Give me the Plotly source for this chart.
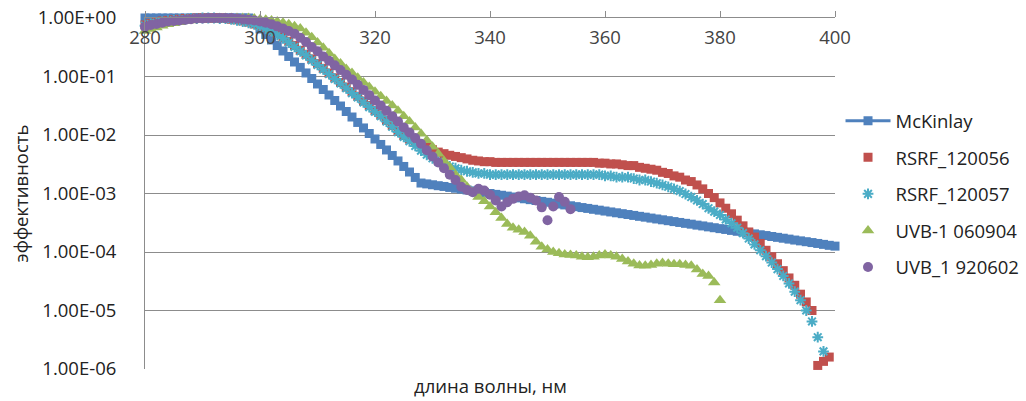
import plotly.graph_objects as go

# wavelengths, nm (1 nm step)
wl_mckinlay = list(range(280, 401))
wl_rsrf56 = list(range(280, 400))
wl_rsrf57 = list(range(280, 399))
wl_uvb_060904 = list(range(280, 381))
wl_uvb_920602 = list(range(280, 355))

mckinlay = [
    1.0, 1.0, 1.0, 1.0, 1.0, 1.0, 1.0, 1.0, 1.0, 1.0,           # 280-289
    1.0, 1.0, 1.0, 1.0, 1.0, 1.0, 1.0, 1.0, 1.0, 0.805,         # 290-299
    0.649, 0.522, 0.421, 0.339, 0.273, 0.220, 0.177, 0.143, 0.115, 0.0925,  # 300-309
    0.0745, 0.0600, 0.0483, 0.0389, 0.0313, 0.0252, 0.0203, 0.0164, 0.0132, 0.0106,  # 310-319
    0.00855, 0.00689, 0.00555, 0.00447, 0.00360, 0.00290, 0.00233, 0.00188, 0.00151, 0.00146,  # 320-329
    0.00141, 0.00136, 0.00132, 0.00127, 0.00123, 0.00119, 0.00115, 0.00111, 0.00107, 0.00104,  # 330-339
    0.00100, 9.66e-4, 9.33e-4, 9.02e-4, 8.71e-4, 8.41e-4, 8.13e-4, 7.85e-4, 7.59e-4, 7.33e-4,  # 340-349
    7.08e-4, 6.84e-4, 6.61e-4, 6.38e-4, 6.17e-4, 5.96e-4, 5.75e-4, 5.56e-4, 5.37e-4, 5.19e-4,  # 350-359
    5.01e-4, 4.84e-4, 4.68e-4, 4.52e-4, 4.37e-4, 4.22e-4, 4.07e-4, 3.94e-4, 3.80e-4, 3.67e-4,  # 360-369
    3.55e-4, 3.43e-4, 3.31e-4, 3.20e-4, 3.09e-4, 2.99e-4, 2.88e-4, 2.79e-4, 2.69e-4, 2.60e-4,  # 370-379
    2.51e-4, 2.43e-4, 2.34e-4, 2.26e-4, 2.19e-4, 2.11e-4, 2.04e-4, 1.97e-4, 1.91e-4, 1.84e-4,  # 380-389
    1.78e-4, 1.72e-4, 1.66e-4, 1.60e-4, 1.55e-4, 1.50e-4, 1.45e-4, 1.40e-4, 1.35e-4, 1.30e-4,  # 390-399
    1.26e-4,                                                     # 400
]

rsrf_120056 = [
    0.76, 0.81, 0.85, 0.89, 0.91, 0.93, 0.95, 0.98, 0.98, 1.0,   # 280-289
    1.0, 1.0, 1.0, 1.0, 0.98, 0.95, 0.93, 0.89, 0.85, 0.79,      # 290-299
    0.74, 0.68, 0.60, 0.54, 0.47, 0.40, 0.34, 0.28, 0.24, 0.20,  # 300-309
    0.166, 0.138, 0.115, 0.095, 0.079, 0.066, 0.055, 0.046, 0.038, 0.032,  # 310-319
    0.026, 0.022, 0.0178, 0.0145, 0.0117, 0.0098, 0.0085, 0.0076, 0.0068, 0.0062,  # 320-329
    0.0056, 0.0051, 0.0048, 0.0045, 0.0043, 0.0041, 0.0039, 0.0037, 0.0036, 0.0035,  # 330-339
    0.0035, 0.0034, 0.0034, 0.0034, 0.0034, 0.0034, 0.0034, 0.0034, 0.0034, 0.0034,  # 340-349
    0.0034, 0.0034, 0.0034, 0.0034, 0.0034, 0.0034, 0.0034, 0.0034, 0.0034, 0.0033,  # 350-359
    0.0033, 0.0032, 0.0032, 0.0031, 0.0030, 0.0030, 0.0028, 0.0027, 0.0026, 0.0025,  # 360-369
    0.0023, 0.0022, 0.0020, 0.0019, 0.0017, 0.0016, 0.0014, 0.0012, 0.0010, 8.5e-4,  # 370-379
    6.9e-4, 5.6e-4, 4.5e-4, 3.5e-4, 2.8e-4, 2.2e-4, 1.8e-4, 1.4e-4, 1.07e-4, 8.3e-5,  # 380-389
    6.3e-5, 4.8e-5, 3.6e-5, 2.7e-5, 1.9e-5, 1.4e-5, 1.0e-5, 1.15e-6, 1.35e-6, 1.6e-6,  # 390-399
]

rsrf_120057 = [
    0.74, 0.79, 0.83, 0.87, 0.89, 0.91, 0.93, 0.95, 0.98, 0.98,  # 280-289
    1.0, 1.0, 1.0, 0.98, 0.98, 0.95, 0.91, 0.87, 0.83, 0.78,     # 290-299
    0.72, 0.66, 0.59, 0.51, 0.45, 0.38, 0.32, 0.27, 0.23, 0.19,  # 300-309
    0.158, 0.132, 0.110, 0.091, 0.076, 0.063, 0.052, 0.044, 0.036, 0.030,  # 310-319
    0.025, 0.021, 0.017, 0.0138, 0.0112, 0.0093, 0.0078, 0.0065, 0.0054, 0.0046,  # 320-329
    0.0040, 0.0035, 0.0032, 0.0029, 0.0027, 0.0025, 0.0024, 0.0023, 0.0022, 0.0022,  # 330-339
    0.0021, 0.0021, 0.0021, 0.0021, 0.0021, 0.0021, 0.0021, 0.0021, 0.0021, 0.0021,  # 340-349
    0.0021, 0.0021, 0.0021, 0.0021, 0.0021, 0.0021, 0.0021, 0.0021, 0.0021, 0.0021,  # 350-359
    0.0020, 0.0020, 0.0019, 0.0019, 0.0019, 0.0018, 0.0017, 0.0017, 0.0016, 0.0015,  # 360-369
    0.0014, 0.0013, 0.0012, 0.0011, 9.8e-4, 8.7e-4, 7.6e-4, 6.6e-4, 5.6e-4, 4.9e-4,  # 370-379
    4.3e-4, 3.6e-4, 3.1e-4, 2.6e-4, 2.1e-4, 1.7e-4, 1.35e-4, 1.07e-4, 8.5e-5, 6.6e-5,  # 380-389
    5.1e-5, 3.9e-5, 2.9e-5, 2.1e-5, 1.5e-5, 1.0e-5, 6.5e-6, 3.5e-6, 2.0e-6,  # 390-398
]

uvb_060904 = [
    0.60, 0.65, 0.69, 0.74, 0.78, 0.81, 0.85, 0.89, 0.91, 0.93,  # 280-289
    0.95, 0.98, 0.98, 1.0, 1.0, 1.0, 1.0, 1.0, 1.0, 0.98,        # 290-299
    0.95, 0.93, 0.91, 0.87, 0.83, 0.78, 0.72, 0.66, 0.56, 0.47,  # 300-309
    0.38, 0.31, 0.25, 0.20, 0.166, 0.135, 0.115, 0.095, 0.079, 0.066,  # 310-319
    0.055, 0.046, 0.038, 0.032, 0.026, 0.021, 0.017, 0.0135, 0.0105, 0.0081,  # 320-329
    0.0063, 0.0048, 0.0036, 0.0028, 0.0021, 0.0017, 0.0013, 0.00105, 8.7e-4, 7.4e-4,  # 330-339
    6.0e-4, 4.8e-4, 3.8e-4, 3.0e-4, 2.6e-4, 2.4e-4, 2.2e-4, 1.9e-4, 1.5e-4, 1.23e-4,  # 340-349
    1.10e-4, 1.0e-4, 9.5e-5, 9.1e-5, 8.9e-5, 8.7e-5, 8.3e-5, 8.1e-5, 8.3e-5, 8.7e-5,  # 350-359
    9.1e-5, 8.7e-5, 8.3e-5, 7.6e-5, 6.9e-5, 6.3e-5, 5.9e-5, 5.8e-5, 6.0e-5, 6.3e-5,  # 360-369
    6.5e-5, 6.3e-5, 6.2e-5, 6.2e-5, 6.0e-5, 5.8e-5, 5.0e-5, 4.2e-5, 3.9e-5, 3.0e-5,  # 370-379
    1.5e-5,                                                      # 380
]

uvb_920602 = [
    0.71, 0.76, 0.79, 0.83, 0.87, 0.89, 0.91, 0.93, 0.95, 0.98,  # 280-289
    0.98, 1.0, 1.0, 1.0, 1.0, 1.0, 0.98, 0.95, 0.93, 0.91,       # 290-299
    0.87, 0.83, 0.78, 0.72, 0.66, 0.60, 0.54, 0.46, 0.39, 0.32,  # 300-309
    0.27, 0.22, 0.186, 0.155, 0.129, 0.107, 0.089, 0.072, 0.059, 0.048,  # 310-319
    0.039, 0.032, 0.026, 0.021, 0.017, 0.0135, 0.011, 0.0089, 0.0071, 0.0055,  # 320-329
    0.0043, 0.0034, 0.0027, 0.0021, 0.0017, 0.0013, 0.00115, 0.00105, 0.0012, 0.00112,  # 330-339
    9.5e-4, 7.6e-4, 6.0e-4, 7.1e-4, 8.1e-4, 8.9e-4, 9.3e-4, 8.5e-4, 7.6e-4, 5.8e-4,  # 340-349
    3.5e-4, 6.0e-4, 8.7e-4, 7.2e-4, 5.4e-4,                      # 350-354
]

x_ticks = [280, 300, 320, 340, 360, 380, 400]
x_tick_text = ["280", "300", "320", "340", "360", "380", "400"]
y_ticks = [1, 1e-1, 1e-2, 1e-3, 1e-4, 1e-5, 1e-6]
y_tick_text = ["1.00E+00", "1.00E-01", "1.00E-02", "1.00E-03", "1.00E-04", "1.00E-05", "1.00E-06"]

FONT = "Open Sans"
GRID = "#8c8c8c"
TEXT = "#222222"
FS = 18.5

fig = go.Figure()
fig.add_trace(go.Scatter(
    x=wl_mckinlay, y=mckinlay, name="McKinlay", mode="lines+markers",
    line=dict(color="#4F81BD", width=3),
    marker=dict(symbol="square", size=9, color="#4F81BD"),
    legendgroup="a", cliponaxis=False))
fig.add_trace(go.Scatter(
    x=wl_rsrf56, y=rsrf_120056, name="RSRF_120056", mode="markers",
    marker=dict(symbol="square", size=9, color="#C0504D"),
    legendgroup="b", cliponaxis=False))
fig.add_trace(go.Scatter(
    x=wl_rsrf57, y=rsrf_120057, name="RSRF_120057", mode="markers",
    marker=dict(symbol="asterisk-open", size=9, color="#4BACC6",
                line=dict(color="#4BACC6", width=2)),
    legendgroup="c", cliponaxis=False))
fig.add_trace(go.Scatter(
    x=wl_uvb_060904, y=uvb_060904, name="UVB-1 060904", mode="markers",
    marker=dict(symbol="triangle-up", size=11, color="#9BBB59"),
    legendgroup="d", cliponaxis=False))
fig.add_trace(go.Scatter(
    x=wl_uvb_920602, y=uvb_920602, name="UVB_1 920602", mode="markers",
    marker=dict(symbol="circle", size=10, color="#8064A2"),
    legendgroup="e", cliponaxis=False))

fig.update_layout(
    width=1026, height=401,
    margin=dict(l=145, r=191, t=18, b=32, autoexpand=False),
    paper_bgcolor="white", plot_bgcolor="white",
    font=dict(family=FONT, size=FS, color=TEXT),
    showlegend=True,
    legend=dict(x=1.008, xanchor="left", y=0.76, yanchor="top",
                traceorder="grouped", tracegroupgap=9.5, itemwidth=45,
                font=dict(family=FONT, size=FS, color=TEXT),
                bgcolor="rgba(0,0,0,0)"),
    xaxis=dict(
        range=[280, 400], side="top",
        tickvals=x_ticks, ticktext=x_tick_text,
        ticks="outside", ticklen=6, tickcolor=GRID,
        ticklabelposition="inside", ticklabelstandoff=14,
        ticklabeloverflow="allow",
        showline=True, linecolor=GRID, linewidth=1,
        showgrid=False, zeroline=False,
    ),
    yaxis=dict(
        type="log", range=[-6, 0],
        tickvals=y_ticks, ticktext=y_tick_text,
        ticks="", ticklabelstandoff=24, ticklabeloverflow="allow",
        showline=True, linecolor=GRID, linewidth=1,
        showgrid=True, gridcolor=GRID, gridwidth=1,
        zeroline=False,
        title=dict(text="эффективность", standoff=4,
                   font=dict(family=FONT, size=FS, color=TEXT)),
    ),
    annotations=[dict(
        text="длина волны, нм", xref="paper", yref="paper",
        x=0.5, y=0, yshift=-16, xanchor="center", yanchor="middle",
        showarrow=False, font=dict(family=FONT, size=FS, color=TEXT))],
)

fig.write_html("out.html")
